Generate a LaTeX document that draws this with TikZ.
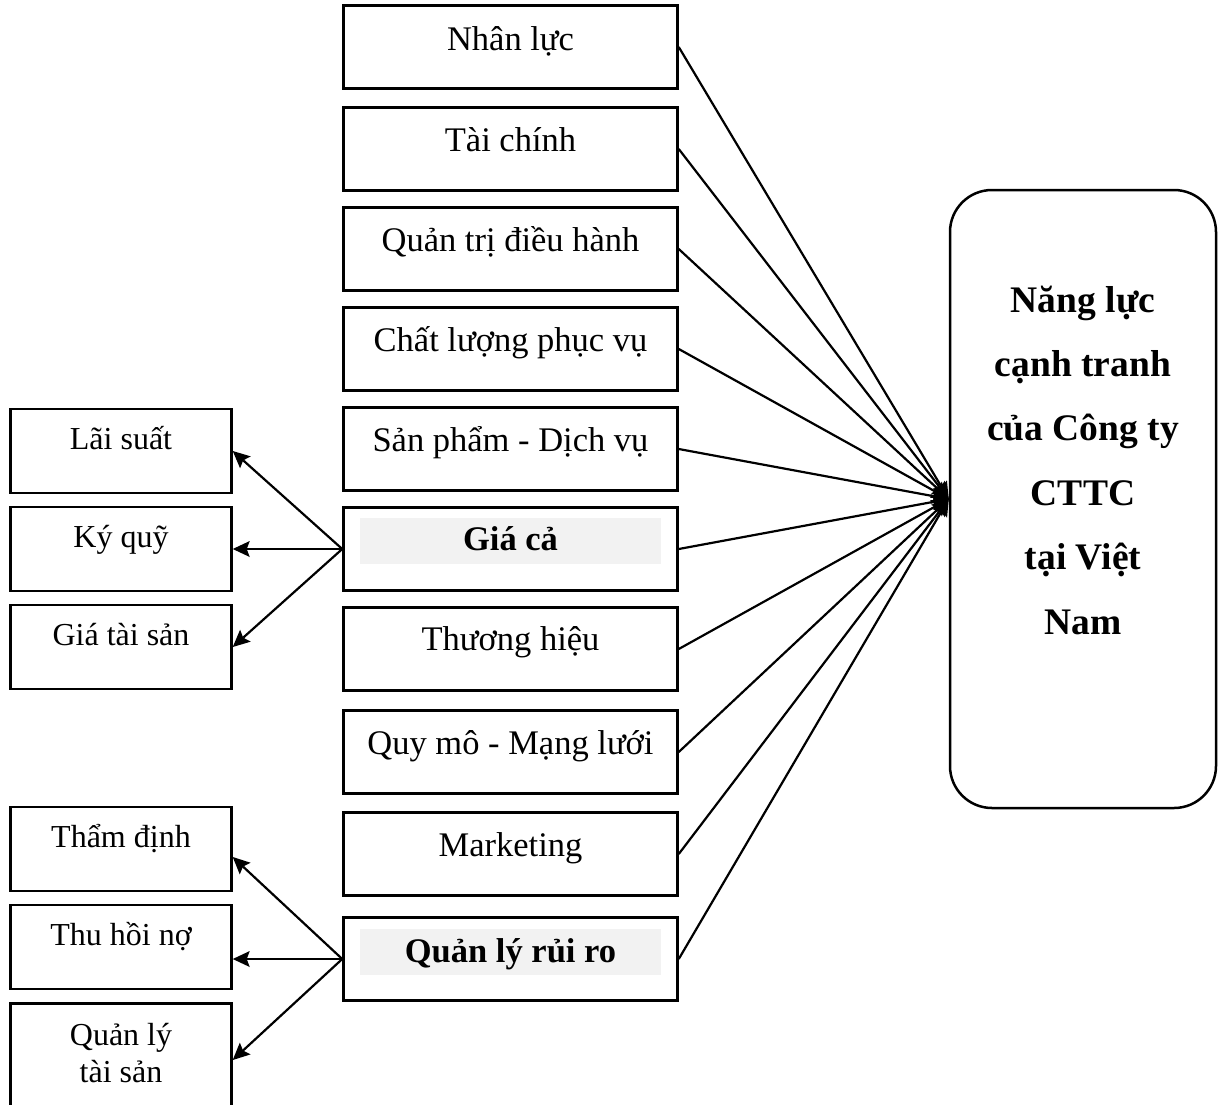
\documentclass[tikz,border=0pt]{standalone}
\usepackage{fontspec}
\setmainfont{Liberation Serif}
\usetikzlibrary{arrows.meta}
\begin{document}
\begin{tikzpicture}[x=1pt,y=-1pt,
  box/.style={draw, line width=2.5pt, minimum width=334pt, minimum height=83pt, inner sep=0pt},
  sidebox/.style={draw, line width=2.5pt, minimum width=221pt, minimum height=84pt, inner sep=0pt},
  shadebar/.style={fill=black!5, minimum width=301pt, minimum height=46pt, inner sep=0pt},
  lbl/.style={anchor=base, inner sep=0pt, font=\fontsize{34.5}{37}\selectfont, align=center},
  sidelbl/.style={anchor=base, inner sep=0pt, font=\fontsize{32}{37}\selectfont, align=center},
  blbl/.style={anchor=base, inner sep=0pt, font=\fontsize{34.5}{40}\selectfont\bfseries},
  tip/.tip={Stealth[length=17pt,width=16pt,inset=3pt,line width=0pt]},
  link/.style={line width=2.2pt, -tip},
]
\useasboundingbox (0,0) rectangle (1221,1104);

% middle column of factors
\foreach \n/\y in {1/47,2/149,3/249,4/349,5/449,6/549,7/649,8/752,9/854,10/959}
  \node[box] (m\n) at (510.5,\y) {};

% shaded bars behind the bold factors
\node[shadebar] (s6) at (510.5,540.5) {};
\node[shadebar] (s10) at (510.5,952) {};

\node[lbl] (t1) at ([yshift=-3pt]m1.center) {Nhân lực};
\node[lbl] (t2) at ([yshift=-2pt]m2.center) {Tài chính};
\node[lbl] (t3) at ([yshift=-2pt]m3.center) {Quản trị điều hành};
\node[lbl] (t4) at ([yshift=-2pt]m4.center) {Chất lượng phục vụ};
\node[lbl] (t5) at ([yshift=-2pt]m5.center) {Sản phẩm - Dịch vụ};
\node[blbl] (t6) at ([yshift=-1pt]m6.center) {Giá cả};
\node[lbl] (t7) at ([yshift=-1pt]m7.center) {Thương hiệu};
\node[lbl] (t8) at ([yshift=-2pt]m8.center) {Quy mô - Mạng lưới};
\node[lbl] (t9) at ([yshift=-2pt]m9.center) {Marketing};
\node[blbl] (t10) at ([yshift=-3pt]m10.center) {Quản lý rủi ro};

% left column of sub-factors
\foreach \n/\y in {1/451,2/549,3/647,4/849,5/947}
  \node[sidebox] (l\n) at (121,\y) {};
\node[sidebox, minimum height=105pt] (l6) at (121,1056) {};

\node[sidelbl] (u1) at ([yshift=2pt]l1.center) {Lãi suất};
\node[sidelbl] (u2) at ([yshift=2pt]l2.center) {Ký quỹ};
\node[sidelbl] (u3) at ([yshift=2pt]l3.center) {Giá tài sản};
\node[sidelbl] (u4) at ([yshift=2pt]l4.center) {Thẩm định};
\node[sidelbl] (u5) at ([yshift=2pt]l5.center) {Thu hồi nợ};
% multi-line node: base anchor sits on the last line
\node[sidelbl] (u6) at (121,1082) {Quản lý\\tài sản};

% target box
\node[draw, line width=2.5pt, rounded corners=42pt, minimum width=266pt,
      minimum height=618pt, inner sep=0pt] (big) at (1083,499) {};
\node[anchor=base, inner sep=0pt, align=center,
      font=\fontsize{37.5}{64.4}\selectfont\bfseries] (bt) at (1083,634)
  {Năng lực\\cạnh tranh\\của Công ty\\CTTC\\tại Việt\\Nam};

% connectors into the target
\foreach \n in {1,...,10}
  \draw[link] (m\n.east) -- (big.west);

% price breakdown
\draw[link] (m6.west) -- (l1.east);
\draw[link] (m6.west) -- (l2.east);
\draw[link] (m6.west) -- (l3.east);

% risk management breakdown
\draw[link] (m10.west) -- ([yshift=-8pt]l4.east);
\draw[link] (m10.west) -- (l5.east |- m10.west);
\draw[link] (m10.west) -- ([yshift=-4pt]l6.east);
\end{tikzpicture}
\end{document}
